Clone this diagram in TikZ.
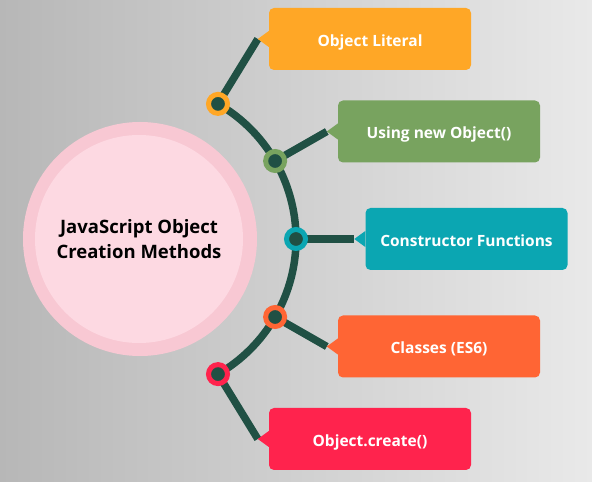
\documentclass[tikz,border=0pt]{standalone}
\usepackage{fontspec}
\setmainfont{Open Sans}
\usetikzlibrary{calc}
\pgfdeclarelayer{back}
\pgfdeclarelayer{mid}
\pgfsetlayers{back,mid,main}
\definecolor{bgl}{RGB}{183,183,183}
\definecolor{bgr}{RGB}{233,233,233}
\definecolor{ring}{RGB}{248,200,211}
\definecolor{inner}{RGB}{253,217,226}
\definecolor{dark}{RGB}{32,80,68}
\definecolor{cA}{RGB}{255,167,38}
\definecolor{cB}{RGB}{120,163,95}
\definecolor{cC}{RGB}{11,166,178}
\definecolor{cD}{RGB}{255,101,52}
\definecolor{cE}{RGB}{255,35,77}
\tikzset{
  conn/.style={draw=dark, line width=7.5pt},
  dotnode/.style={circle, draw=#1, fill=dark, line width=5pt, minimum size=19pt, inner sep=0pt},
  callout/.style={fill=#1, rounded corners=5pt, minimum width=202pt, minimum height=62pt, inner sep=0pt,
    text height=15pt, text depth=0pt,
    text=white, font=\bfseries\fontsize{15.5}{18}\selectfont},
}
\begin{document}
\begin{tikzpicture}[x=1pt,y=1pt]
\begin{pgfonlayer}{back}
\shade[left color=bgl, right color=bgr] (0,0) rectangle (592,482);
\end{pgfonlayer}
\useasboundingbox (0,0) rectangle (592,482);
% central circle
\node[circle, fill=ring, minimum size=234pt, inner sep=0pt] (outer) at (140,243) {};
\node[circle, fill=inner, minimum size=208pt, inner sep=0pt, align=center,
  font=\bfseries\fontsize{18.5}{25}\selectfont] (center) at (139,243) {JavaScript Object\\Creation Methods};
% dots
\coordinate (o) at (140,243);
\node[dotnode=cA] (d1) at ($(o)+(60:156)$) {};
\node[dotnode=cB] (d2) at ($(o)+(30:156)$) {};
\node[dotnode=cC] (d3) at ($(o)+(0:156)$) {};
\node[dotnode=cD] (d4) at ($(o)+(-30:156)$) {};
\node[dotnode=cE] (d5) at ($(o)+(-60:156)$) {};
% boxes
\node[callout=cA] (b1) at (370,443) {Object Literal};
\node[callout=cB] (b2) at (439,350.5) {Using new Object()};
\node[callout=cC] (b3) at (466.5,243) {Constructor Functions};
\node[callout=cD] (b4) at (439,135.5) {Classes (ES6)};
\node[callout=cE] (b5) at (370,43) {Object.create()};
\foreach \i/\c in {1/cA,2/cB,3/cC,4/cD,5/cE}{
  \coordinate (t\i) at ([xshift=-11pt]b\i.west);
  \fill[\c] ([yshift=8pt]b\i.west) -- (t\i) -- ([yshift=-8pt]b\i.west) -- cycle;
}
\begin{pgfonlayer}{mid}
\draw[conn] (d1.center) arc[start angle=60, end angle=-60, radius=156];
\foreach \i in {1,...,5}{
  \draw[conn] (d\i.center) -- (t\i);
}
\end{pgfonlayer}
\end{tikzpicture}
\end{document}
